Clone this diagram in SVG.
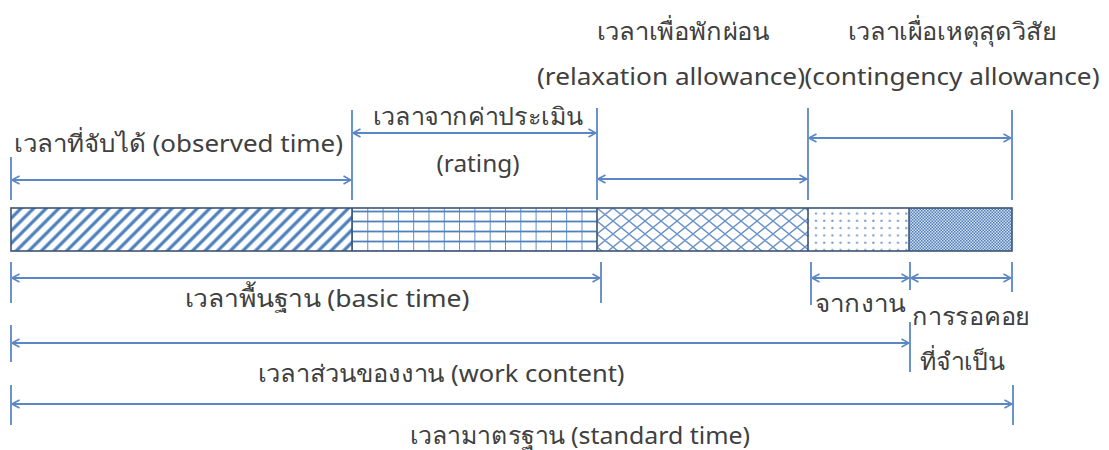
<svg xmlns="http://www.w3.org/2000/svg" width="1109" height="450" viewBox="0 0 1109 450">
<style>
.t{font-family:"Noto Sans","Liberation Sans",sans-serif;font-size:24px;fill:#404040;text-anchor:middle}
.dim{stroke:#5b87c5;stroke-width:1.8;fill:none}
.arr{stroke:#5b87c5;stroke-width:1.8;fill:none;marker-start:url(#ah);marker-end:url(#ah)}
.seg{stroke:#3d5373;stroke-width:1.6}
</style>
<defs>
<marker id="ah" viewBox="0 0 10 10" refX="9.5" refY="5" markerWidth="10" markerHeight="10" markerUnits="userSpaceOnUse" orient="auto-start-reverse">
<path d="M2,1 L9.5,5 L2,9" fill="none" stroke="#5b87c5" stroke-width="1.6"/>
</marker>
<pattern id="diag" patternUnits="userSpaceOnUse" width="8.9" height="10" patternTransform="rotate(45)">
<line x1="2" y1="0" x2="2" y2="10" stroke="#4a7ebb" stroke-width="3.2"/>
</pattern>
<pattern id="grid" patternUnits="userSpaceOnUse" x="352" y="207" width="15.3" height="10">
<line x1="0" y1="0" x2="0" y2="10" stroke="#4f81bd" stroke-width="1.8"/>
<line x1="0" y1="4.5" x2="15.3" y2="4.5" stroke="#4f81bd" stroke-width="1.8"/>
</pattern>
<pattern id="diamond" patternUnits="userSpaceOnUse" x="597" y="208" width="16" height="13">
<path d="M0,0 L16,13 M16,0 L0,13" stroke="#6d95cb" stroke-width="1.4" fill="none"/>
</pattern>
<pattern id="dots" patternUnits="userSpaceOnUse" x="812" y="210" width="8.2" height="7.3">
<rect x="3" y="2.5" width="2" height="2" fill="#6d95cb"/>
</pattern>
<pattern id="fine" patternUnits="userSpaceOnUse" width="3" height="3">
<rect width="3" height="3" fill="#d3deee"/>
<rect x="0" y="0" width="1.5" height="1.5" fill="#4f7fbd"/>
<rect x="1.5" y="1.5" width="1.5" height="1.5" fill="#4f7fbd"/>
</pattern>
</defs>
<rect width="1109" height="450" fill="#ffffff"/>

<g id="bar">
<rect x="11" y="208" width="341" height="43" fill="url(#diag)"/>
<rect x="352" y="208" width="245" height="43" fill="url(#grid)"/>
<rect x="597" y="208" width="211" height="43" fill="url(#diamond)"/>
<rect x="808" y="208" width="101" height="43" fill="url(#dots)"/>
<rect x="909" y="208" width="103" height="43" fill="url(#fine)"/>
<rect x="11" y="208" width="1001" height="43" fill="none" class="seg"/>
<line x1="352" y1="208" x2="352" y2="251" class="seg"/>
<line x1="597" y1="208" x2="597" y2="251" class="seg"/>
<line x1="808" y1="208" x2="808" y2="251" class="seg"/>
<line x1="909" y1="208" x2="909" y2="251" class="seg"/>
</g>

<g id="connectors">
<line x1="11" y1="157" x2="11" y2="200" class="dim"/>
<line x1="352" y1="110" x2="352" y2="200" class="dim"/>
<line x1="597" y1="108" x2="597" y2="200" class="dim"/>
<line x1="808" y1="108" x2="808" y2="200" class="dim"/>
<line x1="1012" y1="110" x2="1012" y2="200" class="dim"/>
<line x1="12" y1="180" x2="351" y2="180" class="arr"/>
<line x1="353" y1="133" x2="596" y2="133" class="arr"/>
<line x1="598" y1="179" x2="807" y2="179" class="arr"/>
<line x1="809" y1="138" x2="1011" y2="138" class="arr"/>

<line x1="11" y1="262" x2="11" y2="303" class="dim"/>
<line x1="601" y1="262" x2="601" y2="303" class="dim"/>
<line x1="811" y1="262" x2="811" y2="305" class="dim"/>
<line x1="910" y1="262" x2="910" y2="290" class="dim"/>
<line x1="1012" y1="262" x2="1012" y2="292" class="dim"/>
<line x1="12" y1="278" x2="600" y2="278" class="arr"/>
<line x1="812" y1="278" x2="909" y2="278" class="arr"/>
<line x1="911" y1="278" x2="1011" y2="278" class="arr"/>

<line x1="11" y1="325" x2="11" y2="362" class="dim"/>
<line x1="910" y1="322" x2="910" y2="372" class="dim"/>
<line x1="12" y1="343" x2="909" y2="343" class="arr"/>

<line x1="11" y1="385" x2="11" y2="425" class="dim"/>
<line x1="1013" y1="385" x2="1013" y2="425" class="dim"/>
<line x1="12" y1="404" x2="1012" y2="404" class="arr"/>
</g>

<g id="labels">
<text class="t" x="178.5" y="152" textLength="329" lengthAdjust="spacingAndGlyphs">เวลาที่จับได้ (observed time)</text>
<text class="t" x="478" y="125" textLength="210" lengthAdjust="spacingAndGlyphs">เวลาจากค่าประเมิน</text>
<text class="t" x="478" y="172" textLength="83" lengthAdjust="spacingAndGlyphs">(rating)</text>
<text class="t" x="683" y="40" textLength="173" lengthAdjust="spacingAndGlyphs">เวลาเพื่อพักผ่อน</text>
<text class="t" x="952" y="40" textLength="209" lengthAdjust="spacingAndGlyphs">เวลาเผื่อเหตุสุดวิสัย</text>
<text class="t" x="671" y="85" textLength="268" lengthAdjust="spacingAndGlyphs">(relaxation allowance)</text>
<text class="t" x="952" y="85" textLength="295" lengthAdjust="spacingAndGlyphs">(contingency allowance)</text>
<text class="t" x="327" y="307" textLength="285" lengthAdjust="spacingAndGlyphs">เวลาพื้นฐาน (basic time)</text>
<text class="t" x="860" y="312" textLength="90" lengthAdjust="spacingAndGlyphs">จากงาน</text>
<text class="t" x="971" y="325" textLength="118" lengthAdjust="spacingAndGlyphs">การรอคอย</text>
<text class="t" x="962" y="370" textLength="85" lengthAdjust="spacingAndGlyphs">ที่จำเป็น</text>
<text class="t" x="441" y="382" textLength="367" lengthAdjust="spacingAndGlyphs">เวลาส่วนของงาน (work content)</text>
<text class="t" x="580" y="444" textLength="340" lengthAdjust="spacingAndGlyphs">เวลามาตรฐาน (standard time)</text>
</g>
</svg>
